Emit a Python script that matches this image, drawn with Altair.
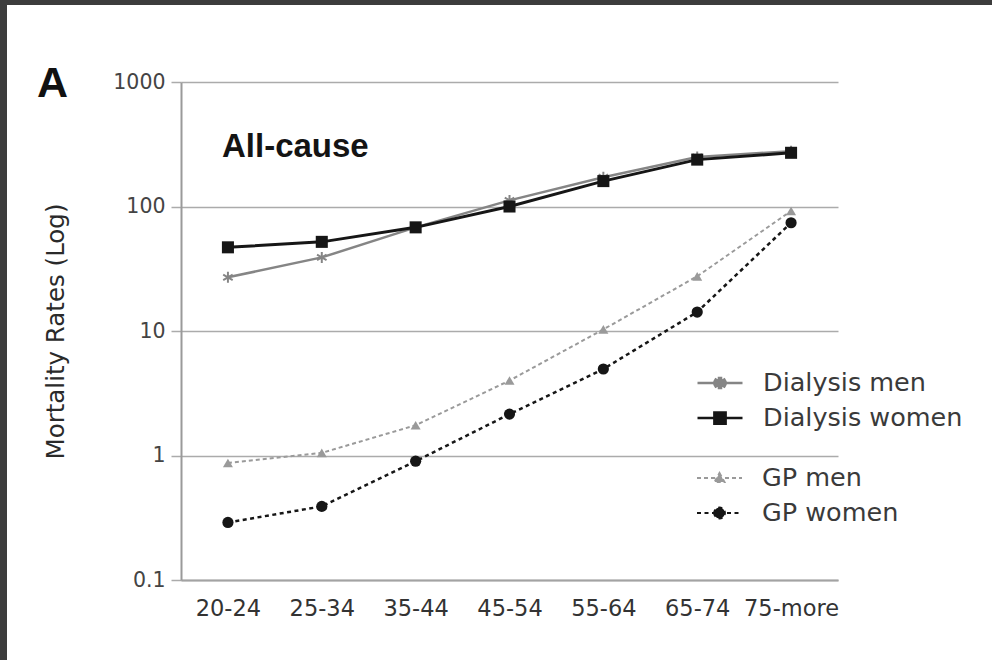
import altair as alt
import pandas as pd

ages = ["20-24", "25-34", "35-44", "45-54", "55-64", "65-74", "75-more"]
dialysis_men = [27, 39, 68, 112, 172, 250, 278]
dialysis_women = [47, 52, 68, 100, 160, 238, 270]
gp_men = [0.87, 1.05, 1.75, 4.0, 10.3, 27.5, 92]
gp_women = [0.29, 0.39, 0.90, 2.15, 4.95, 14.2, 74]
y_ticks = [0.1, 1, 10, 100, 1000]

series_names = ["Dialysis men", "Dialysis women", "GP men", "GP women"]
series_values = [dialysis_men, dialysis_women, gp_men, gp_women]

rows = []
for name, vals in zip(series_names, series_values):
    for a, v in zip(ages, vals):
        rows.append({"age": a, "value": v, "series": name})
df = pd.DataFrame(rows)

GRAY_D = "#858585"
GRAY_G = "#9a9a9a"
BLACK = "#161616"
GRID = "#ababab"
FONT = "DejaVu Sans"

# marker paths (unit coordinates)
AST = ("M-0.18,-1H0.18V1H-0.18Z"
       "M0.776,-0.656L0.956,-0.344L-0.776,0.656L-0.956,0.344Z"
       "M-0.956,-0.344L-0.776,-0.656L0.956,0.344L0.776,0.656Z")
LINE = "M-1,0H1"
LEG_AST = LINE + ("M-0.045,-0.22H0.045V0.22H-0.045Z"
                  "M0.19,-0.16L0.23,-0.09L-0.19,0.16L-0.23,0.09Z"
                  "M-0.23,-0.09L-0.19,-0.16L0.23,0.09L0.19,0.16Z")
LEG_SQ = LINE + "M-0.25,-0.25H0.25V0.25H-0.25Z"
LEG_TRI = LINE + "M0,-0.22L0.22,0.18H-0.22Z"
LEG_CIR = LINE + "M-0.24,0A0.24,0.24,0,1,0,0.24,0A0.24,0.24,0,1,0,-0.24,0Z"

x_enc = alt.X(
    "age:N",
    sort=ages,
    scale=alt.Scale(type="point", domain=ages, padding=0.5),
    axis=alt.Axis(
        title=None, ticks=False, grid=False, labelAngle=0,
        labelFont=FONT, labelFontSize=22.5, labelColor="#333333",
        labelPadding=17, domainColor="#a3a3a3", domainWidth=2,
    ),
)
y_enc = alt.Y(
    "value:Q",
    scale=alt.Scale(type="log", domain=[0.1, 1000]),
    axis=alt.Axis(
        values=y_ticks, format="~g", title="Mortality Rates (Log)",
        titleFont=FONT, titleFontSize=24.5, titleFontWeight="normal",
        titleColor="#2a2a2a", titlePadding=44,
        labelFont=FONT, labelFontSize=20.5, labelColor="#444444",
        labelPadding=6, tickSize=10, tickColor=GRID, tickWidth=1.5,
        grid=True, gridColor=GRID, gridWidth=1.5,
        domainColor="#9a9a9a", domainWidth=2,
    ),
)

base = alt.Chart(df).encode(x=x_enc, y=y_enc)


def series_layers(name, color, width, dash, shape, size):
    sub = base.transform_filter(alt.datum.series == name)
    line_kw = dict(color=color, strokeWidth=width)
    if dash:
        line_kw["strokeDash"] = dash
    line = sub.mark_line(**line_kw)
    pts = sub.mark_point(filled=True, shape=shape, size=size, color=color, opacity=1)
    return [line, pts]


layers = []
layers += series_layers("GP men", GRAY_G, 2, [4, 3], "triangle-up", 100)
layers += series_layers("GP women", BLACK, 2.5, [4, 3.5], "circle", 125)
layers += series_layers("Dialysis men", GRAY_D, 2.5, None, AST, 120)
layers += series_layers("Dialysis women", BLACK, 3, None, "square", 145)


def legend_layer(names, colors, shapes, dashes, ly, sw):
    leg = alt.Legend(
        orient="none", legendX=515, legendY=ly, title=None, padding=0,
        clipHeight=30, rowPadding=5, symbolSize=2025, symbolStrokeWidth=sw,
        symbolOpacity=1, labelFont=FONT, labelFontSize=25.5,
        labelColor="#3a3a3a", labelOffset=19, labelLimit=400,
    )
    return base.transform_filter("false").mark_point(filled=True).encode(
        fill=alt.Fill("series:N", scale=alt.Scale(domain=names, range=colors), legend=leg),
        stroke=alt.Stroke("series:N", scale=alt.Scale(domain=names, range=colors), legend=leg),
        shape=alt.Shape("series:N", scale=alt.Scale(domain=names, range=shapes), legend=leg),
        strokeDash=alt.StrokeDash("series:N", scale=alt.Scale(domain=names, range=dashes), legend=leg),
    )


leg1 = legend_layer(["Dialysis men", "Dialysis women"], [GRAY_D, BLACK],
                    [LEG_AST, LEG_SQ], [[1, 0], [1, 0]], 286, 2.5)
leg2 = legend_layer(["GP men", "GP women"], [GRAY_G, BLACK],
                    [LEG_TRI, LEG_CIR], [[4, 3], [4, 3.5]], 381, 2)

ann = pd.DataFrame({"label": ["All-cause"]})
title_txt = alt.Chart(ann).mark_text(
    font="Liberation Sans", fontWeight="bold", fontSize=33, color="#141414",
    align="left", baseline="alphabetic",
).encode(text="label:N", x=alt.value(41), y=alt.value(75))

panel = pd.DataFrame({"label": ["A"]})
panel_txt = alt.Chart(panel).mark_text(
    font="Liberation Sans", fontWeight="bold", fontSize=43, color="#111111",
    align="left", baseline="alphabetic",
).encode(text="label:N", x=alt.value(-144), y=alt.value(15))

frame = pd.DataFrame({"k": [0]})
left_bar = alt.Chart(frame).mark_rect(color="#3c3c3c").encode(
    x=alt.value(-181), x2=alt.value(-174), y=alt.value(-82), y2=alt.value(578))
top_bar = alt.Chart(frame).mark_rect(color="#3c3c3c").encode(
    x=alt.value(-181), x2=alt.value(811), y=alt.value(-82), y2=alt.value(-77))

chart = alt.layer(
    *layers, leg1, leg2, title_txt, panel_txt, left_bar, top_bar
).resolve_scale(
    fill="independent", stroke="independent", shape="independent",
    strokeDash="independent",
).properties(
    width=657, height=498,
    autosize=alt.AutoSizeParams(type="none"),
    padding={"left": 181, "top": 82, "right": 154, "bottom": 80},
    background="white",
).configure_view(stroke=None)

chart.save("out.html", embed_options={"renderer": "svg", "actions": False})
